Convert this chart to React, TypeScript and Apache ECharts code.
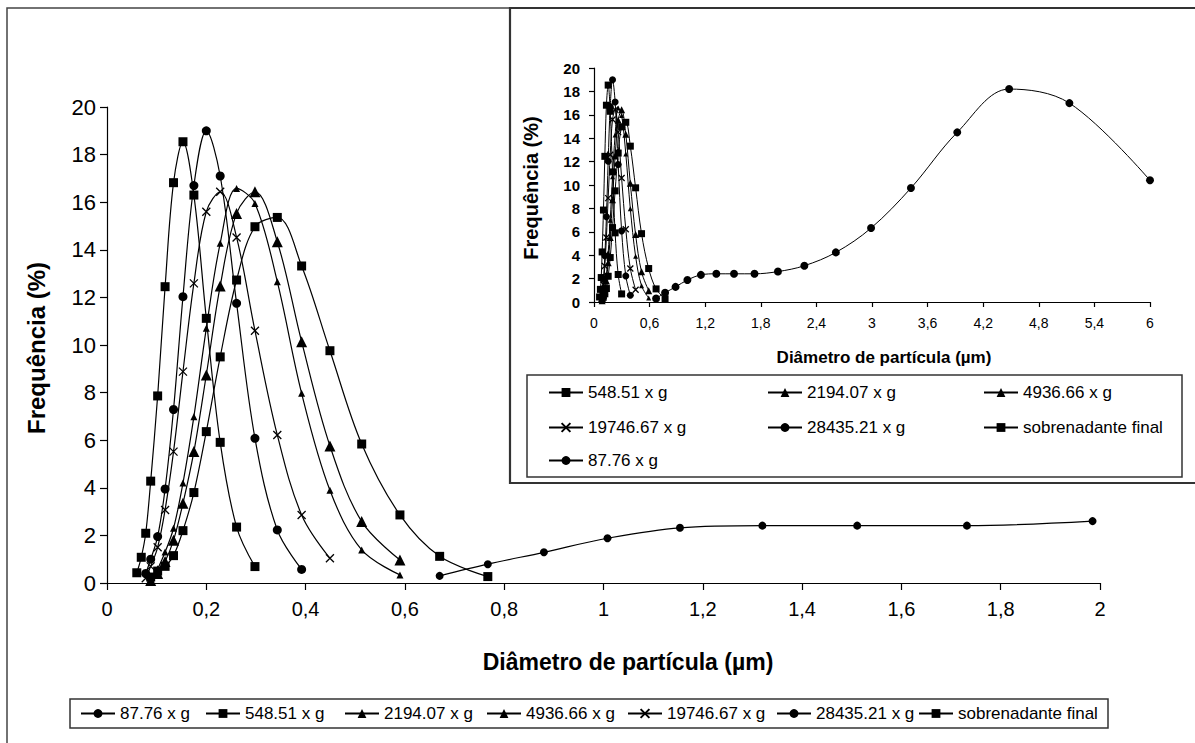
import React, { useEffect, useRef } from "react";
import * as echarts from "echarts";

// Particle-size bins (µm), shared by every series
const sizeBins = [
  0.06, 0.069, 0.078, 0.088, 0.102, 0.117, 0.134, 0.153, 0.175, 0.2, 0.228, 0.261, 0.298, 0.343,
  0.392, 0.449, 0.513, 0.59, 0.67, 0.767, 0.88, 1.008, 1.154, 1.32, 1.511, 1.732, 1.985, 2.27,
  2.61, 2.99, 3.42, 3.92, 4.48, 5.13, 6.0,
];

// Frequency (%) per series, starting at the given bin index
const freq8776 = [0.3, 0.79, 1.29, 1.88, 2.32, 2.41, 2.41, 2.41, 2.6, 3.1, 4.24, 6.32, 9.74, 14.5, 18.2, 17.0, 10.4];
const start8776 = 18;
const freq54851 = [0.25, 0.5, 0.7, 1.15, 2.2, 3.8, 6.36, 9.5, 12.73, 14.97, 15.36, 13.32, 9.76, 5.84, 2.86, 1.12, 0.27];
const start54851 = 3;
const freq219407 = [0.1, 0.4, 0.9, 1.8, 3.35, 5.52, 8.74, 12.48, 15.53, 16.44, 14.34, 10.14, 5.76, 2.58, 0.97];
const start219407 = 3;
const freq493666 = [0.2, 0.6, 1.3, 2.3, 4.2, 6.99, 10.7, 14.27, 16.58, 15.95, 12.66, 7.97, 3.9, 1.39, 0.34];
const start493666 = 3;
const freq1974667 = [0.2, 0.7, 1.5, 3.07, 5.52, 8.88, 12.59, 15.6, 16.44, 14.52, 10.6, 6.22, 2.86, 1.04];
const start1974667 = 2;
const freq2843521 = [0.4, 1.0, 1.95, 3.95, 7.29, 12.03, 16.7, 19.0, 17.1, 11.75, 6.08, 2.23, 0.57];
const start2843521 = 2;
const freqSobrenadante = [0.43, 1.08, 2.09, 4.28, 7.86, 12.45, 16.82, 18.54, 16.3, 11.12, 5.91, 2.35, 0.69];
const startSobrenadante = 0;

const mainLegendOrder = [
  "87.76 x g",
  "548.51 x g",
  "2194.07 x g",
  "4936.66 x g",
  "19746.67 x g",
  "28435.21 x g",
  "sobrenadante final",
];
const insetLegendRows = [
  ["548.51 x g", "2194.07 x g", "4936.66 x g"],
  ["19746.67 x g", "28435.21 x g", "sobrenadante final"],
  ["87.76 x g"],
];

const xMarkPath = "path://M0,0L10,10M10,0L0,10";
const FONT = 'Arial, "Liberation Sans", sans-serif';

type SeriesDef = {
  name: string;
  values: number[];
  start: number;
  symbol: string;
  size: number;
  insetSize: number;
  stroke?: boolean;
};

const seriesDefs: SeriesDef[] = [
  { name: "87.76 x g", values: freq8776, start: start8776, symbol: "circle", size: 8, insetSize: 8 },
  { name: "548.51 x g", values: freq54851, start: start54851, symbol: "rect", size: 9, insetSize: 7 },
  { name: "2194.07 x g", values: freq219407, start: start219407, symbol: "triangle", size: 11, insetSize: 7 },
  { name: "4936.66 x g", values: freq493666, start: start493666, symbol: "triangle", size: 7, insetSize: 5 },
  { name: "19746.67 x g", values: freq1974667, start: start1974667, symbol: xMarkPath, size: 8, insetSize: 6, stroke: true },
  { name: "28435.21 x g", values: freq2843521, start: start2843521, symbol: "circle", size: 9, insetSize: 7 },
  { name: "sobrenadante final", values: freqSobrenadante, start: startSobrenadante, symbol: "rect", size: 9, insetSize: 7 },
];

function toPoints(d: SeriesDef) {
  return d.values.map((v, i) => [sizeBins[d.start + i], v]);
}

const fmtComma = (v: number) => {
  const r = Math.round(v * 10) / 10;
  return String(r).replace(".", ",");
};

export default function App() {
  const ref = useRef<HTMLDivElement>(null);

  useEffect(() => {
    if (!ref.current) return;
    const chart = echarts.init(ref.current, undefined, { renderer: "svg" });

    const lineStyle = { color: "#000", width: 1.2 };
    const mkItemStyle = (d: SeriesDef) =>
      d.stroke
        ? { color: "#000", borderColor: "#000", borderWidth: 1.3 }
        : { color: "#000", borderWidth: 0 };

    const mainSeries = seriesDefs.map((d) => ({
      name: d.name,
      type: "line",
      xAxisIndex: 0,
      yAxisIndex: 0,
      smooth: 0.35,
      symbol: d.symbol,
      symbolSize: d.size,
      showAllSymbol: true,
      lineStyle,
      itemStyle: mkItemStyle(d),
      data: toPoints(d).filter((p) => p[0] <= 2),
      z: 3,
    }));
    const insetSeries = seriesDefs.map((d) => ({
      name: d.name,
      type: "line",
      xAxisIndex: 1,
      yAxisIndex: 1,
      smooth: 0.35,
      symbol: d.symbol,
      symbolSize: d.insetSize,
      showAllSymbol: true,
      lineStyle: { color: "#000", width: 1 },
      itemStyle: mkItemStyle(d),
      data: toPoints(d),
      z: 3,
    }));

    const legendBase = {
      orient: "horizontal",
      itemWidth: 34,
      itemHeight: 11,
      itemGap: 0,
      padding: 0,
      selectedMode: false,
      textStyle: { fontSize: 17, fontFamily: FONT, color: "#000" },
    };
    const mainLegendX = [80, 205, 344, 486, 627, 776, 918];
    const legends: any[] = mainLegendOrder.map((n, i) => ({
      ...legendBase,
      data: [n],
      left: mainLegendX[i],
      top: 705,
    }));
    const insetColX = [548, 767, 983];
    const insetRowY = [384, 419, 452];
    insetLegendRows.forEach((row, r) =>
      row.forEach((n, c) =>
        legends.push({ ...legendBase, data: [n], left: insetColX[c], top: insetRowY[r] })
      )
    );

    const axisLine = { show: true, lineStyle: { color: "#000", width: 1.2 } };

    chart.setOption({
      animation: false,
      backgroundColor: "#fff",
      legend: legends,
      grid: [
        { left: 107, top: 107, width: 993, height: 476 },
        { left: 594, top: 68, width: 556, height: 234 },
      ],
      xAxis: [
        {
          type: "value",
          gridIndex: 0,
          min: 0,
          max: 2,
          interval: 0.2,
          axisLine,
          axisTick: { show: true, length: 7, lineStyle: { color: "#000", width: 1.2 } },
          splitLine: { show: false },
          axisLabel: { fontSize: 20, fontFamily: FONT, color: "#000", margin: 16, formatter: fmtComma },
        },
        {
          type: "value",
          gridIndex: 1,
          min: 0,
          max: 6,
          interval: 0.6,
          axisLine,
          axisTick: { show: true, length: 5, lineStyle: { color: "#000", width: 1.2 } },
          splitLine: { show: false },
          axisLabel: { fontSize: 14, fontFamily: FONT, color: "#000", margin: 14, formatter: fmtComma },
        },
      ],
      yAxis: [
        {
          type: "value",
          gridIndex: 0,
          min: 0,
          max: 20,
          interval: 2,
          axisLine,
          axisTick: { show: true, length: 7, lineStyle: { color: "#000", width: 1.2 } },
          splitLine: { show: false },
          axisLabel: { fontSize: 22, fontFamily: FONT, color: "#000", margin: 11 },
        },
        {
          type: "value",
          gridIndex: 1,
          min: 0,
          max: 20,
          interval: 2,
          axisLine,
          axisTick: { show: true, length: 5, lineStyle: { color: "#000", width: 1.2 } },
          splitLine: { show: false },
          axisLabel: { fontSize: 15, fontWeight: "bold", fontFamily: FONT, color: "#000", margin: 14 },
        },
      ],
      graphic: [
        { type: "rect", shape: { x: 7, y: 8, width: 1210, height: 760 }, style: { fill: "none", stroke: "#444", lineWidth: 1.5 }, silent: true },
        { type: "rect", shape: { x: 510, y: 8, width: 720, height: 475 }, style: { fill: "none", stroke: "#333", lineWidth: 2.2 }, silent: true },
        { type: "rect", shape: { x: 70, y: 699, width: 1038, height: 29 }, style: { fill: "none", stroke: "#333", lineWidth: 1.5 }, silent: true },
        { type: "rect", shape: { x: 527, y: 375, width: 655, height: 102 }, style: { fill: "none", stroke: "#333", lineWidth: 1.5 }, silent: true },
        {
          type: "text",
          x: 628,
          y: 662,
          style: { text: "Diâmetro de partícula (µm)", fontSize: 23, fontWeight: "bold", fontFamily: FONT, fill: "#000", align: "center", verticalAlign: "middle" },
        },
        {
          type: "text",
          x: 36,
          y: 348,
          rotation: Math.PI / 2,
          style: { text: "Frequência (%)", fontSize: 24, fontWeight: "bold", fontFamily: FONT, fill: "#000", align: "center", verticalAlign: "middle" },
        },
        {
          type: "text",
          x: 884,
          y: 357,
          style: { text: "Diâmetro de partícula (µm)", fontSize: 17, fontWeight: "bold", fontFamily: FONT, fill: "#000", align: "center", verticalAlign: "middle" },
        },
        {
          type: "text",
          x: 531,
          y: 188,
          rotation: Math.PI / 2,
          style: { text: "Frequência (%)", fontSize: 20, fontWeight: "bold", fontFamily: FONT, fill: "#000", align: "center", verticalAlign: "middle" },
        },
      ],
      series: [...mainSeries, ...insetSeries],
    });

    return () => chart.dispose();
  }, []);

  return (
    <div
      ref={ref}
      style={{ position: "fixed", left: 0, top: 0, width: 1195, height: 743, background: "#fff" }}
    />
  );
}
